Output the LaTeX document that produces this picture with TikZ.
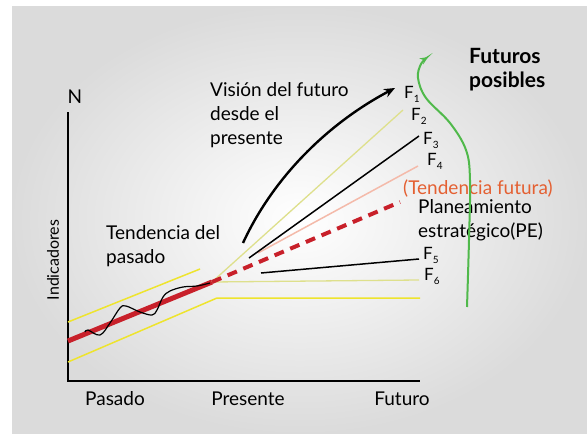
\documentclass[tikz,border=0pt]{standalone}
\usepackage{fontspec}
\setmainfont{Lato}
\usetikzlibrary{arrows.meta}
\definecolor{lineyellow}{RGB}{238,228,45}
\definecolor{paleyellow}{RGB}{222,224,140}
\definecolor{softpink}{RGB}{244,186,170}
\definecolor{trendred}{RGB}{200,32,42}
\definecolor{trendorange}{RGB}{228,96,50}
\definecolor{futgreen}{RGB}{80,185,75}
\newcommand{\fsub}[1]{F\raisebox{-4pt}{\fontsize{10}{10}\selectfont #1}}
\begin{document}
\begin{tikzpicture}[x=1pt,y=-1pt,
  txt/.style={inner sep=0pt,font=\fontsize{19}{24}\selectfont,align=left},
  flabel/.style={inner sep=0pt,anchor=base west,font=\fontsize{17}{17}\selectfont},
  band/.style={lineyellow,line width=1.5pt},
  paleline/.style={paleyellow,line width=1.3pt},
  futline/.style={black,line width=1.5pt}]
\useasboundingbox (0,0) rectangle (587,434);
%background
\shade[inner color=white,outer color=black!14] (12,6) rectangle (587,433);
%axis
\coordinate (org) at (68,381);
\coordinate (ytop) at (68,112);
\coordinate (xend) at (420,381);
\draw[line width=1.8pt] (ytop)--(org)--(xend);
\node[txt,anchor=base] (N) at (75,103) {N};
\node[txt,rotate=90,font=\fontsize{16}{16}\selectfont] (ind) at (53,260) {Indicadores};
\node[txt,anchor=base] (pasado) at (115,405) {Pasado};
\node[txt,anchor=base] (presente) at (248,405) {Presente};
\node[txt,anchor=base] (futuro) at (402,405) {Futuro};
%past band
\coordinate (pres) at (212,282);
\draw[band] (68,322)--(200,269);
\draw[band] (68,362)--(217,298)--(420,298);
%past trend
\draw[trendred,line width=5pt] (68,341)--(pres);
\draw[line width=1.2pt] plot[smooth,tension=0.6] coordinates {(85,332) (88,330) (100,335) (110,323) (120,308) (126,306) (140,312) (152,315) (157,310) (163,297) (170,291) (183,287) (197,286) (210,283)};
%futures
\coordinate (f1) at (395,88);
\coordinate (f2) at (403,110);
\coordinate (f3) at (419,136);
\coordinate (f4) at (418,166);
\coordinate (pe) at (400,202);
\coordinate (f5) at (419,259);
\coordinate (f6) at (419,280);
\draw[paleline] (pres)--(f2);
\draw[paleline] (pres)--(f6);
\draw[softpink,line width=1.5pt] (258,253)--(f4);
\draw[futline] (249,258)--(f3);
\draw[futline] (261,273)--(f5);
\draw[trendred,line width=4pt,dash pattern=on 10pt off 7pt] (pres)--(pe);
\draw[line width=2.4pt,-{Stealth[length=11pt,width=9pt]}] (243,243) .. controls (272,180) and (325,125) .. (f1);
\node[flabel] (F1) at (404,98) {\fsub{1}};
\node[flabel] (F2) at (411,120) {\fsub{2}};
\node[flabel] (F3) at (423,144) {\fsub{3}};
\node[flabel] (F4) at (427,165) {\fsub{4}};
\node[flabel] (F5) at (423,259) {\fsub{5}};
\node[flabel] (F6) at (424,280) {\fsub{6}};
%texts
\node[txt,anchor=west] (vision) at (210,115) {Visión del futuro\\desde el\\presente};
\node[txt,anchor=west] (pasadotxt) at (106,246) {Tendencia del\\pasado};
\node[txt,anchor=base west,text=trendorange] (tendfut) at (403,194) {(Tendencia futura)};
\node[txt,anchor=west] (plan) at (418,220) {Planeamiento\\estratégico(PE)};
%possible futures
\draw[futgreen,line width=2pt,-{Stealth[length=8pt,width=7pt]}] plot[smooth,tension=0.6] coordinates {(467,307) (469,240) (470,180) (466,150) (450,123) (426,98) (418,78) (421,64) (428,57)};
\node[txt,anchor=west,font=\bfseries\fontsize{21}{24}\selectfont] (posibles) at (469,70) {Futuros\\posibles};
\end{tikzpicture}
\end{document}
